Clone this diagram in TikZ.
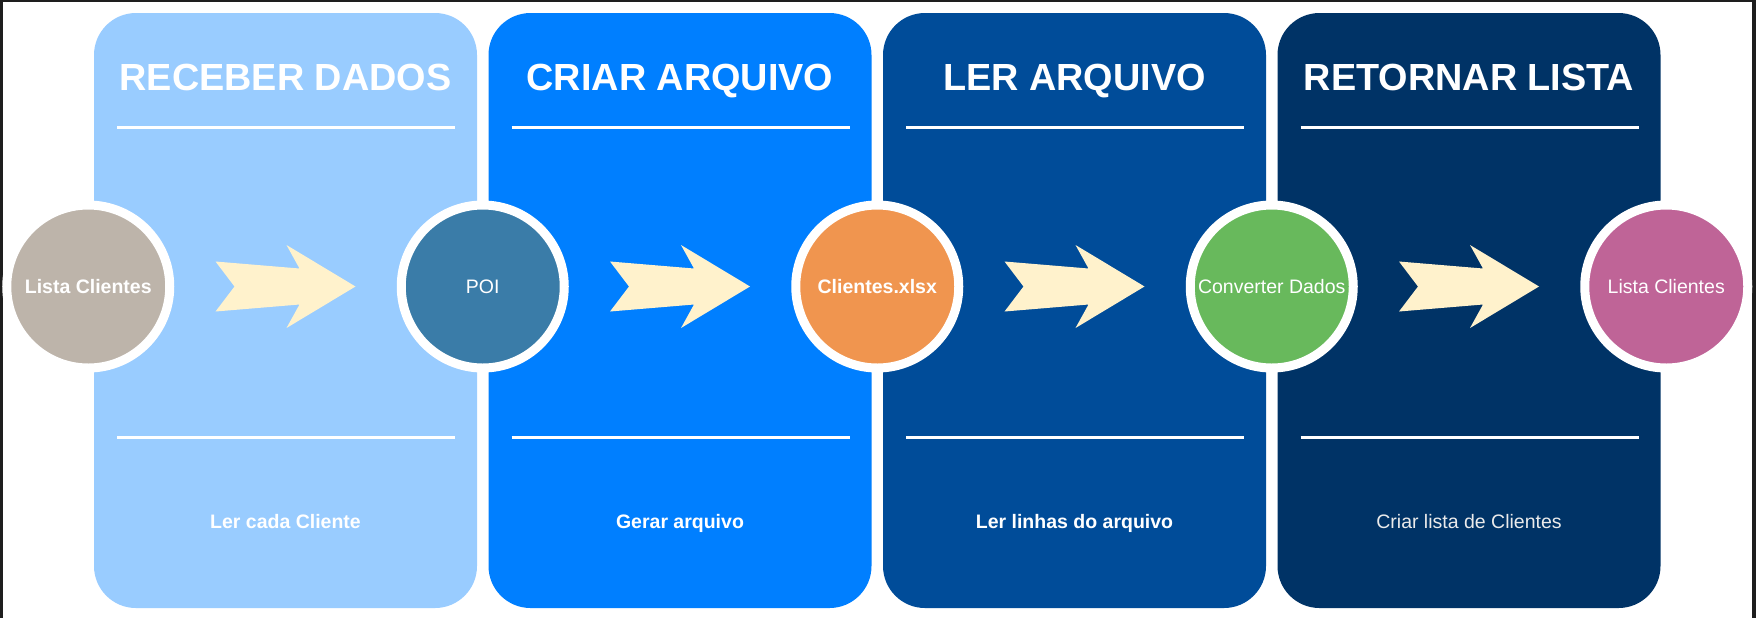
\documentclass[tikz,border=0pt]{standalone}
\usepackage{fontspec}
\setmainfont{Liberation Sans}
\usetikzlibrary{positioning}
\usetikzlibrary{calc}
\definecolor{recebe}{HTML}{99CCFF}
\definecolor{cria}{HTML}{007FFF}
\definecolor{le}{HTML}{004C99}
\definecolor{retorna}{HTML}{003366}
\definecolor{seta}{HTML}{FFF2CC}
\definecolor{lista}{HTML}{BDB4AA}
\definecolor{poi}{HTML}{3A7CA8}
\definecolor{xlsx}{HTML}{F0954F}
\definecolor{converte}{HTML}{68B95C}
\definecolor{saida}{HTML}{BF6497}
\definecolor{moldura}{HTML}{1E1E1E}

\begin{document}
\begin{tikzpicture}[
			x=0.5pt, y=-0.5pt,
			panel/.style={rectangle, rounded corners=21pt, minimum width=191.5pt, minimum height=297.5pt, inner sep=0pt},
			title/.style={text=white, font=\fontsize{18.9pt}{22pt}\selectfont\bfseries, anchor=base},
			stage/.style={circle, draw=white, line width=4.5pt, minimum size=81.5pt, inner sep=0pt, text=white, font=\fontsize{9.75pt}{12pt}\selectfont},
			note/.style={text=white, font=\fontsize{9.75pt}{12pt}\selectfont, anchor=base},
			sep/.style={white, line width=1.5pt},
			flow/.style={fill=seta}
		]
			\useasboundingbox (0,0) rectangle (1756,618);
			\fill[white] (0,0) rectangle (1756,618);
			\fill[moldura] (0,0) rectangle (3,618);
			\fill[moldura] (0,0) rectangle (1756,2);
			\fill[moldura] (1752,0) rectangle (1756,618);

			\node[panel, fill=recebe] (p1) at (285.5,310.5) {};
			\node[panel, fill=cria] (p2) at (680,310.5) {};
			\node[panel, fill=le] (p3) at (1074.5,310.5) {};
			\node[panel, fill=retorna] (p4) at (1469,310.5) {};

			\node[title] (t1) at (285.5,90) {RECEBER DADOS};
			\node[title] (t2) at (680,90) {CRIAR ARQUIVO};
			\node[title] (t3) at (1074.5,90) {LER ARQUIVO};
			\node[title] (t4) at (1469,90) {RETORNAR LISTA};

			\draw[sep] (117,127) -- (455,127);
			\draw[sep] (511.5,127) -- (849.5,127);
			\draw[sep] (906,127) -- (1244,127);
			\draw[sep] (1300.5,127) -- (1638.5,127);
			\draw[sep] (117,437) -- (455,437);
			\draw[sep] (511.5,437) -- (849.5,437);
			\draw[sep] (906,437) -- (1244,437);
			\draw[sep] (1300.5,437) -- (1638.5,437);

			\node[note, font=\fontsize{9.75pt}{12pt}\selectfont\bfseries] (n1) at (285.5,528) {Ler cada Cliente};
			\node[note, font=\fontsize{9.75pt}{12pt}\selectfont\bfseries] (n2) at (680,528) {Gerar arquivo};
			\node[note, font=\fontsize{9.75pt}{12pt}\selectfont\bfseries] (n3) at (1074.5,528) {Ler linhas do arquivo};
			\node[note, text=black!8] (n4) at (1469,528) {Criar lista de Clientes};

			\node[stage, fill=lista, font=\fontsize{9.75pt}{12pt}\selectfont\bfseries] (c1) at (88.25,286.5) {Lista Clientes};
			\node[stage, fill=poi] (c2) at (482.75,286.5) {POI};
			\node[stage, fill=xlsx, font=\fontsize{9.75pt}{12pt}\selectfont\bfseries] (c3) at (877.25,286.5) {Clientes.xlsx};
			\node[stage, fill=converte] (c4) at (1271.75,286.5) {Converter Dados};
			\node[stage, fill=saida] (c5) at (1666.25,286.5) {Lista Clientes};

			\coordinate (a1) at ($(c1)!0.5!(c2)$);
			\coordinate (a2) at ($(c2)!0.5!(c3)$);
			\coordinate (a3) at ($(c3)!0.5!(c4)$);
			\coordinate (a4) at ($(c4)!0.5!(c5)$);
			\fill[flow, shift={(a1)}] (-70,-25) -- (-51,0) -- (-70,25) -- (14,18) -- (1,41.5) -- (70,0) -- (1,-41.5) -- (14,-18) -- cycle;
			\fill[flow, shift={(a2)}] (-70,-25) -- (-51,0) -- (-70,25) -- (14,18) -- (1,41.5) -- (70,0) -- (1,-41.5) -- (14,-18) -- cycle;
			\fill[flow, shift={(a3)}] (-70,-25) -- (-51,0) -- (-70,25) -- (14,18) -- (1,41.5) -- (70,0) -- (1,-41.5) -- (14,-18) -- cycle;
			\fill[flow, shift={(a4)}] (-70,-25) -- (-51,0) -- (-70,25) -- (14,18) -- (1,41.5) -- (70,0) -- (1,-41.5) -- (14,-18) -- cycle;
		\end{tikzpicture}
\end{document}
